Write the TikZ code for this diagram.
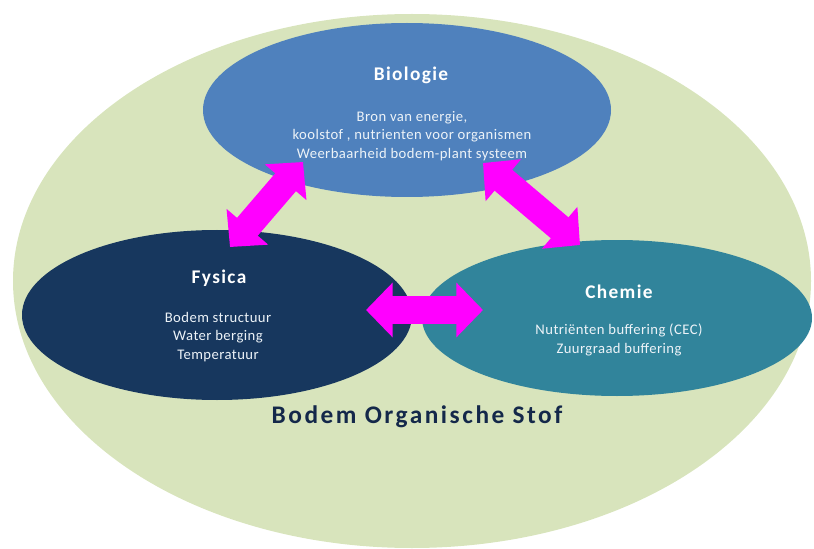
\documentclass[tikz,border=0pt]{standalone}
\usepackage{fontspec}
\setmainfont{Carlito}
\newfontfamily\headfont[LetterSpace=7]{Carlito}
\newfontfamily\bodyfont[LetterSpace=3]{Carlito}
\newfontfamily\bosfont[LetterSpace=10]{Carlito}
\usetikzlibrary{shapes.geometric,arrows.meta}

\definecolor{bosgreen}{HTML}{D8E4BC}
\definecolor{biocol}{HTML}{4F81BD}
\definecolor{fyscol}{HTML}{17375E}
\definecolor{chemcol}{HTML}{31849B}
\definecolor{arrowcol}{HTML}{FF00FF}
\definecolor{boscol}{HTML}{14284A}

\tikzset{every picture/.style={line width=0.75pt}}
\tikzset{
  blob/.style={ellipse, inner sep=0pt, draw=none},
  head/.style={text=white, inner sep=0.75pt, font=\headfont\bfseries\fontsize{14.5pt}{17pt}\selectfont},
  body/.style={text=white!90!biocol, inner sep=0.75pt, align=center, font=\bodyfont\fontsize{11pt}{14pt}\selectfont},
  twoway/.style={draw=arrowcol, line width=20.5pt, {Triangle[length=20pt,width=40pt]}-{Triangle[length=20pt,width=40pt]}},
}

\begin{document}
\begin{tikzpicture}[x=0.75pt,y=0.75pt,yscale=-1,xscale=1]
\useasboundingbox (0,0) rectangle (814,549);

%Shape: Ellipse [bodem organische stof]
\node[blob, fill=bosgreen, minimum width=598.5pt, minimum height=400.5pt] (bos) at (412,281) {};
%Shape: Ellipse [biologie]
\node[blob, fill=biocol, minimum width=306pt, minimum height=130.5pt] (bio) at (407,110) {};
%Shape: Ellipse [fysica]
\node[blob, fill=fyscol, minimum width=292.5pt, minimum height=127.5pt] (fys) at (217,315) {};
%Shape: Ellipse [chemie]
\node[blob, fill=chemcol, minimum width=292.5pt, minimum height=117pt] (chem) at (617,318) {};

% Text Node
\node[head, anchor=base] (biot) at (411,81) {Biologie};
% Text Node
\node[body] (biob) at (412,136) {Bron van energie,\\koolstof , nutrienten voor organismen\\Weerbaarheid bodem-plant  systeem};
% Text Node
\node[head, anchor=base] (fyst) at (219,283) {Fysica};
% Text Node
\node[body] (fysb) at (218,337) {Bodem structuur\\Water berging\\Temperatuur};
% Text Node
\node[head, anchor=base] (chemt) at (619,298) {Chemie};
% Text Node
\node[body] (chemb) at (619,340) {Nutriënten buffering  (CEC)\\Zuurgraad buffering};
% Text Node
\node[anchor=base, text=boscol, inner sep=0.75pt, font=\bosfont\bfseries\fontsize{19pt}{22pt}\selectfont] (bost) at (417,423) {Bodem Organische Stof};

%Double Arrows
\coordinate (bioL) at (303,162);
\coordinate (fysT) at (230,247);
\coordinate (bioR) at (483,163);
\coordinate (chemT) at (580,245);
\coordinate (fysR) at (366,310);
\coordinate (chemL) at (483,310);
\draw[twoway] (fysT) -- (bioL);
\draw[twoway] (bioR) -- (chemT);
\draw[twoway] (fysR) -- (chemL);

\end{tikzpicture}
\end{document}
